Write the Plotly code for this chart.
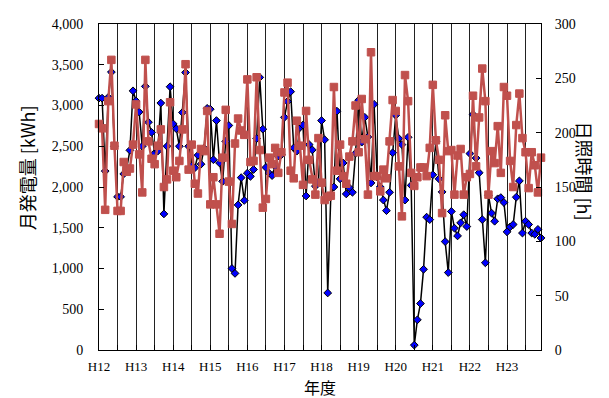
import plotly.graph_objects as go

year_labels = ["H12", "H13", "H14", "H15", "H16", "H17",
               "H18", "H19", "H20", "H21", "H22", "H23"]

# 月発電量 [kWh] (monthly, April start of each fiscal year)
power_kwh = [
    3090, 3090, 2195, 3100, 3410, 2500, 1880, 1880, 2160, 2240, 2450, 3180,
    3055, 2920, 2500, 3235, 2795, 2670, 2415, 2440, 3030, 1670, 2500, 3230,
    2775, 2715, 2500, 2915, 3405, 2500, 2255, 2235, 2390, 2280, 2475, 2965,
    2955, 2335, 2815, 2295, 2070, 2560, 2755, 1000, 940, 1780, 2115, 1835,
    2170, 2130, 2215, 2595, 3345, 2710, 2240, 2170, 2140, 2255, 2380, 2395,
    2855, 3050, 3170, 2480, 2440, 2730, 2760, 1890, 2520, 2455, 2010, 2060,
    2815, 2580, 700, 1900, 2000, 2930, 2100, 2295, 1915, 1990, 1935, 2415,
    3065, 2550, 2855, 2615, 2050, 3015, 2120, 2000, 1840, 1710, 1935, 2420,
    2880, 2595, 2520, 1840, 2610, 2020, 60, 370, 570, 990, 1630, 1600,
    2150, 2560, 2100, 1940, 1330, 950, 1700, 1495, 1400, 1560, 1660, 1515,
    2410, 2890, 2355, 2175, 1600, 1070, 1900, 1680, 1580, 1855, 1870, 1810,
    1450, 1510, 1540, 1875, 2075, 1435, 1580, 1540, 1435, 1420, 1480, 1375,
]

# 日照時間 [h]
sunshine_h = [
    208, 204, 129, 229, 267, 188, 128, 128, 173, 164, 167, 189,
    226, 180, 145, 267, 192, 176, 171, 188, 203, 150, 157, 228,
    165, 159, 174, 203, 263, 166, 189, 153, 144, 185, 183, 220,
    134, 159, 134, 107, 177, 221, 155, 116, 190, 213, 202, 198,
    249, 173, 174, 251, 184, 131, 139, 177, 171, 186, 163, 182,
    237, 246, 165, 158, 211, 188, 152, 220, 175, 157, 143, 195,
    154, 138, 141, 142, 242, 165, 189, 160, 153, 178, 192, 225,
    182, 231, 194, 143, 274, 160, 160, 146, 166, 158, 192, 230,
    220, 169, 123, 253, 229, 163, 151, 159, 168, 168, 160, 186,
    244, 193, 175, 126, 216, 183, 184, 143, 179, 185, 143, 159,
    162, 234, 169, 214, 259, 229, 143, 183, 172, 206, 163, 242,
    234, 174, 150, 207, 236, 195, 182, 149, 182, 170, 145, 177,
]

months = list(range(len(power_kwh)))

tick_vals = list(range(0, len(months), 6))
tick_text = [year_labels[v // 12] if v % 12 == 0 else "" for v in tick_vals]

fig = go.Figure()
fig.add_trace(go.Scatter(
    x=months, y=power_kwh, mode="lines+markers", yaxis="y",
    line=dict(color="black", width=1.5),
    marker=dict(symbol="diamond", size=6, color="#0000FF",
                line=dict(color="black", width=1)),
    cliponaxis=False, name="月発電量",
))
fig.add_trace(go.Scatter(
    x=months, y=sunshine_h, mode="lines+markers", yaxis="y2",
    line=dict(color="#C0504D", width=2.5),
    marker=dict(symbol="square", size=7.5, color="#C0504D",
                line=dict(color="#C0504D", width=1)),
    cliponaxis=False, name="日照時間",
))

serif = dict(family="Liberation Serif, Times New Roman, serif", size=14, color="black")
cjk = "Noto Sans CJK JP, sans-serif"

# page body adds an 8px margin, so the figure is sized/offset to compensate
fig.update_layout(
    width=601, height=390,
    margin=dict(l=91, r=68, t=9, b=48),
    paper_bgcolor="white", plot_bgcolor="white",
    showlegend=False,
    xaxis=dict(
        range=[0, len(months) - 1], tickmode="array",
        tickvals=tick_vals, ticktext=tick_text,
        ticks="inside", ticklen=5, tickcolor="black",
        showgrid=True, gridcolor="#222", gridwidth=1,
        showline=True, linecolor="black", linewidth=1, mirror=True,
        zeroline=False, tickfont=dict(serif, size=13),
        ticklabelstandoff=4,
    ),
    yaxis=dict(
        range=[0, 4000], dtick=500, tickformat=",",
        ticks="inside", ticklen=5, tickcolor="black",
        showgrid=False, zeroline=False,
        showline=True, linecolor="black", linewidth=1,
        tickfont=serif, ticklabelstandoff=12,
    ),
    yaxis2=dict(
        range=[0, 300], dtick=50, overlaying="y", side="right",
        ticks="inside", ticklen=5, tickcolor="black",
        showgrid=False, zeroline=False,
        showline=True, linecolor="black", linewidth=1,
        tickfont=serif, ticklabelstandoff=10,
    ),
    annotations=[
        dict(text="月発電量 [kWh]", xref="paper", yref="paper",
             x=-0.161, y=0.56, textangle=-90, showarrow=False,
             xanchor="center", yanchor="middle",
             font=dict(family=cjk, size=18, color="black")),
        dict(text="日照時間 [h]", xref="paper", yref="paper",
             x=1.1, y=0.55, textangle=90, showarrow=False,
             xanchor="center", yanchor="middle",
             font=dict(family=cjk, size=18, color="black")),
        dict(text="年度", xref="paper", yref="paper",
             x=0.5, y=-0.114, showarrow=False,
             xanchor="center", yanchor="middle",
             font=dict(family=cjk, size=16, color="black")),
    ],
)

fig.write_html("out.html")
